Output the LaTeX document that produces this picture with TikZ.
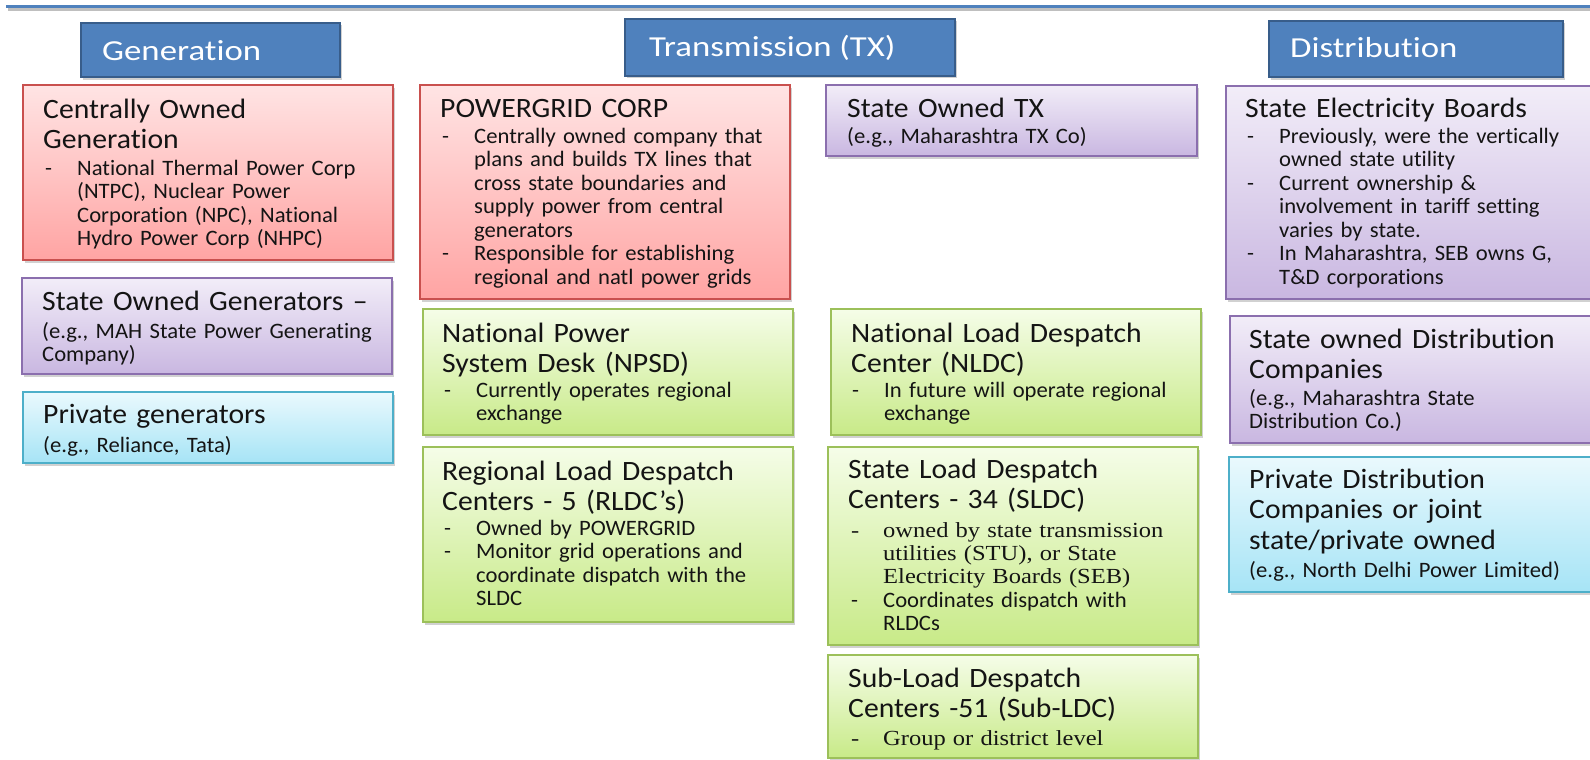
\documentclass[tikz,border=0pt]{standalone}
\usepackage{fontspec}
\setmainfont{Carlito}[Ligatures=NoCommon]
\newfontfamily\hdrfont{Carlito}[Ligatures=NoCommon,FakeStretch=1.2]
\newfontfamily\ttlfont{Carlito}[Ligatures=NoCommon,FakeStretch=1.06]
\newfontfamily\bdyfont{Carlito}[Ligatures=NoCommon,FakeStretch=1.03]
\newfontfamily\serifbody{Liberation Serif}[FakeStretch=1.14]
\usetikzlibrary{shadows}

\definecolor{hdrfill}{HTML}{4F81BD}
\definecolor{hdrline}{HTML}{385D8A}
\definecolor{redline}{HTML}{C9504E}
\definecolor{redtop}{HTML}{FFE4E4}
\definecolor{redbot}{HTML}{FFA4A3}
\definecolor{purline}{HTML}{8B6FAE}
\definecolor{purtop}{HTML}{F2EDF8}
\definecolor{purbot}{HTML}{C9B7E1}
\definecolor{cyanline}{HTML}{4DAFC9}
\definecolor{cyantop}{HTML}{EAF9FD}
\definecolor{cyanbot}{HTML}{A6E4F6}
\definecolor{grnline}{HTML}{9CC05A}
\definecolor{grntop}{HTML}{F5FDE8}
\definecolor{grnbot}{HTML}{C8EA88}
\definecolor{txt}{HTML}{141414}

\newcommand{\dashitem}{\makebox[32pt][l]{-}}
\newcommand{\cont}{\hspace*{32pt}}

\tikzset{
  boxshadow/.style={drop shadow={shadow xshift=1.5pt,shadow yshift=-2.5pt,opacity=0.3,fill=black!60}},
  hdrbox/.style={draw=hdrline,line width=2.5pt,fill=hdrfill,boxshadow},
  redbox/.style={draw=redline,line width=1.3pt,top color=redtop,bottom color=redbot,boxshadow},
  purbox/.style={draw=purline,line width=1.3pt,top color=purtop,bottom color=purbot,boxshadow},
  cyanbox/.style={draw=cyanline,line width=1.3pt,top color=cyantop,bottom color=cyanbot,boxshadow},
  grnbox/.style={draw=grnline,line width=1.3pt,top color=grntop,bottom color=grnbot,boxshadow},
  hdrtext/.style={anchor=base west,inner sep=0pt,text=white,font=\hdrfont\fontsize{29}{34}\selectfont},
  ttl/.style={anchor=base west,inner sep=0pt,text=txt,text width=370pt,align=left,
    font=\ttlfont\fontsize{28}{30.5}\selectfont},
  bdy/.style={anchor=base west,inner sep=0pt,text=txt,text width=370pt,align=left,
    font=\bdyfont\fontsize{22}{23.5}\selectfont},
  sbdy/.style={bdy,font=\serifbody\fontsize{21.5}{23.3}\selectfont},
}

\begin{document}
\begin{tikzpicture}[x=1pt,y=-1pt]
\useasboundingbox (0,0) rectangle (1590,760);

% rule along the top edge
\draw[line width=3pt,black!25] (8,10) -- (1600,10);
\draw[line width=3pt,hdrfill] (6,6.5) -- (1600,6.5);

% column headers
\path[hdrbox] (81,23) rectangle (340,77);
\node[hdrtext] (hgen) at (102,60) {Generation};
\path[hdrbox] (625,19) rectangle (955,76);
\node[hdrtext] (htx) at (649,57) {Transmission (TX)};
\path[hdrbox] (1269,21) rectangle (1563,77);
\node[hdrtext] (hdist) at (1290,58) {Distribution};

% ---- generation column
\path[redbox] (23,85) rectangle (393,260);
\node[ttl] (g1t) at (43,118) {Centrally Owned\\Generation};
\node[bdy] (g1b) at (45,175) {\dashitem National Thermal Power Corp\\
  \cont(NTPC), Nuclear Power\\ \cont Corporation (NPC), National\\ \cont Hydro Power Corp (NHPC)};

\path[purbox] (22,278) rectangle (392,374);
\node[ttl] (g2t) at (42,310) {State Owned Generators –};
\node[bdy] (g2b) at (42,338) {(e.g., MAH State Power Generating\\Company)};

\path[cyanbox] (23,392) rectangle (393,463);
\node[ttl] (g3t) at (43,423) {Private generators};
\node[bdy] (g3b) at (43,452) {(e.g., Reliance, Tata)};

% ---- transmission, central side
\path[redbox] (420,85) rectangle (790,299);
\node[ttl] (p1t) at (440,117) {POWERGRID CORP};
\node[bdy] (p1b) at (442,143) {\dashitem Centrally owned company that\\
  \cont plans and builds TX lines that\\ \cont cross state boundaries and\\
  \cont supply power from central\\ \cont generators\\
  \dashitem Responsible for establishing\\ \cont regional and natl power grids};

\path[grnbox] (423,309) rectangle (793,435);
\node[ttl] (p2t) at (442,342) {National Power\\System Desk (NPSD)};
\node[bdy] (p2b) at (444,397) {\dashitem Currently operates regional\\ \cont exchange};

\path[grnbox] (423,447) rectangle (793,622);
\node[ttl] (p3t) at (442,480) {Regional Load Despatch\\Centers - 5 (RLDC’s)};
\node[bdy] (p3b) at (444,535) {\dashitem Owned by POWERGRID\\
  \dashitem Monitor grid operations and\\ \cont coordinate dispatch with the\\ \cont SLDC};

% ---- transmission, state side
\path[purbox] (826,85) rectangle (1197,156);
\node[ttl] (s1t) at (847,117) {State Owned TX};
\node[bdy] (s1b) at (847,143) {(e.g., Maharashtra TX Co)};

\path[grnbox] (831,309) rectangle (1201,435);
\node[ttl] (n1t) at (851,342) {National Load Despatch\\Center (NLDC)};
\node[bdy] (n1b) at (852,397) {\dashitem In future will operate regional\\ \cont exchange};

\path[grnbox] (828,447) rectangle (1198,645);
\node[ttl] (s2t) at (848,478) {State Load Despatch\\Centers - 34 (SLDC)};
\node[sbdy] (s2b) at (851,537) {\dashitem owned by state transmission\\
  \cont utilities (STU), or State\\ \cont Electricity Boards (SEB)};
\node[bdy] (s2c) at (851,607) {\dashitem Coordinates dispatch with\\ \cont RLDCs};

\path[grnbox] (828,655) rectangle (1198,758);
\node[ttl] (s3t) at (848,687) {Sub-Load Despatch\\Centers -51 (Sub-LDC)};
\node[sbdy] (s3b) at (851,745) {\dashitem Group or district level};

% ---- distribution column
\path[purbox] (1226,86) rectangle (1600,299);
\node[ttl] (d1t) at (1245,117) {State Electricity Boards};
\node[bdy] (d1b) at (1247,143) {\dashitem Previously, were the vertically\\
  \cont owned state utility\\ \dashitem Current ownership \&\\
  \cont involvement in tariff setting\\ \cont varies by state.\\
  \dashitem In Maharashtra, SEB owns G,\\ \cont T\&D corporations};

\path[purbox] (1230,316) rectangle (1600,443);
\node[ttl] (d2t) at (1249,348) {State owned Distribution\\Companies};
\node[bdy] (d2b) at (1249,405) {(e.g., Maharashtra State\\Distribution Co.)};

\path[cyanbox] (1229,457) rectangle (1600,592);
\node[ttl] (d3t) at (1249,488) {Private Distribution\\Companies or joint\\state/private owned};
\node[bdy] (d3b) at (1249,577) {(e.g., North Delhi Power Limited)};
\end{tikzpicture}
\end{document}
